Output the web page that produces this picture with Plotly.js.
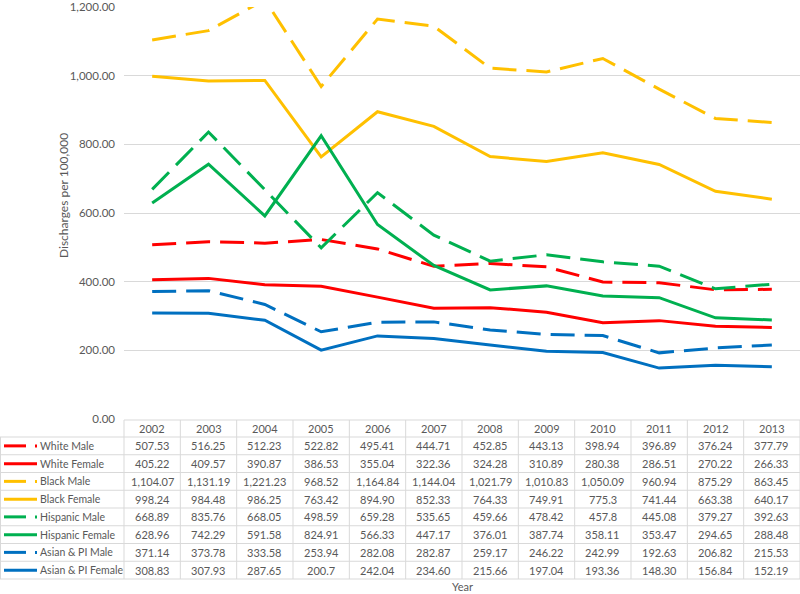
<!DOCTYPE html>
<html>
<head>
<meta charset="utf-8">
<script src="https://cdn.plot.ly/plotly-3.0.1.min.js"></script>
<style>html,body{margin:0;padding:0;background:#fff;}#chart{width:800px;height:594px;}</style>
</head>
<body>
<div id="chart"></div>
<script>
const years = ['2002','2003','2004','2005','2006','2007','2008','2009','2010','2011','2012','2013'];
const seriesNames = ['White Male','White Female','Black Male','Black Female','Hispanic Male','Hispanic Female','Asian & PI Male','Asian & PI Female'];
const whiteMale = [507.53,516.25,512.23,522.82,495.41,444.71,452.85,443.13,398.94,396.89,376.24,377.79];
const whiteFemale = [405.22,409.57,390.87,386.53,355.04,322.36,324.28,310.89,280.38,286.51,270.22,266.33];
const blackMale = [1104.07,1131.19,1221.23,968.52,1164.84,1144.04,1021.79,1010.83,1050.09,960.94,875.29,863.45];
const blackFemale = [998.24,984.48,986.25,763.42,894.90,852.33,764.33,749.91,775.3,741.44,663.38,640.17];
const hispanicMale = [668.89,835.76,668.05,498.59,659.28,535.65,459.66,478.42,457.8,445.08,379.27,392.63];
const hispanicFemale = [628.96,742.29,591.58,824.91,566.33,447.17,376.01,387.74,358.11,353.47,294.65,288.48];
const asianMale = [371.14,373.78,333.58,253.94,282.08,282.87,259.17,246.22,242.99,192.63,206.82,215.53];
const asianFemale = [308.83,307.93,287.65,200.7,242.04,234.60,215.66,197.04,193.36,148.30,156.84,152.19];
// Table cell text as shown in the reference
const tableText = [
 ['507.53','516.25','512.23','522.82','495.41','444.71','452.85','443.13','398.94','396.89','376.24','377.79'],
 ['405.22','409.57','390.87','386.53','355.04','322.36','324.28','310.89','280.38','286.51','270.22','266.33'],
 ['1,104.07','1,131.19','1,221.23','968.52','1,164.84','1,144.04','1,021.79','1,010.83','1,050.09','960.94','875.29','863.45'],
 ['998.24','984.48','986.25','763.42','894.90','852.33','764.33','749.91','775.3','741.44','663.38','640.17'],
 ['668.89','835.76','668.05','498.59','659.28','535.65','459.66','478.42','457.8','445.08','379.27','392.63'],
 ['628.96','742.29','591.58','824.91','566.33','447.17','376.01','387.74','358.11','353.47','294.65','288.48'],
 ['371.14','373.78','333.58','253.94','282.08','282.87','259.17','246.22','242.99','192.63','206.82','215.53'],
 ['308.83','307.93','287.65','200.7','242.04','234.60','215.66','197.04','193.36','148.30','156.84','152.19']
];
const seriesData = [whiteMale,whiteFemale,blackMale,blackFemale,hispanicMale,hispanicFemale,asianMale,asianFemale];
const colors = ['#ff0000','#ff0000','#ffc000','#ffc000','#00b050','#00b050','#0070c0','#0070c0'];
const isMale = [true,false,true,false,true,false,true,false];
const DASH = '24px,10px';

const traces = seriesData.map((d,i)=>({
  type:'scatter', mode:'lines', x:years, y:d, name:seriesNames[i],
  line:{color:colors[i], width:3, dash: isMale[i]?DASH:'solid'},
  hoverinfo:'x+y+name'
}));

// geometry helpers (pixels -> paper)
const L=124, T=7, PW=676, PH=412;
const px2x = p => (p-L)/PW;
const py2y = p => (T+PH-p)/PH;
const colW = PW/years.length;
const colCenter = c => (c+0.5)/years.length; // paper x of a category column centre

const gridC = '#d9d9d9';
const textC = '#595959';
const FS = 11;
const shapes = [];
const annotations = [];
const headTop = 420, headBot = 437, rowH = 17.75;
const nRows = seriesNames.length;
const tblBot = headBot + rowH*nRows;
// horizontal lines
shapes.push({type:'line', xref:'paper', yref:'paper', x0:px2x(124), x1:px2x(800), y0:py2y(headTop), y1:py2y(headTop), line:{color:gridC,width:1}});
for(let r=0;r<=nRows;r++){
  const y = headBot + rowH*r;
  shapes.push({type:'line', xref:'paper', yref:'paper', x0:px2x(0), x1:px2x(800), y0:py2y(y), y1:py2y(y), line:{color:gridC,width:1}});
}
// vertical lines
for(let c=0;c<=years.length;c++){
  const x = L + colW*c;
  shapes.push({type:'line', xref:'paper', yref:'paper', x0:px2x(x), x1:px2x(x), y0:py2y(headTop), y1:py2y(tblBot), line:{color:gridC,width:1}});
}
shapes.push({type:'line', xref:'paper', yref:'paper', x0:px2x(0.5), x1:px2x(0.5), y0:py2y(headBot), y1:py2y(tblBot), line:{color:gridC,width:1}});
// header text
years.forEach((yr,c)=>{
  annotations.push({xref:'paper', yref:'paper', x:colCenter(c), y:py2y((headTop+headBot)/2), text:yr, showarrow:false, xanchor:'center', yanchor:'middle', font:{size:FS,color:textC}});
});
// rows
for(let r=0;r<nRows;r++){
  const yc = headBot + rowH*r + rowH/2;
  tableText[r].forEach((t,c)=>{
    annotations.push({xref:'paper', yref:'paper', x:colCenter(c), y:py2y(yc), text:t, showarrow:false, xanchor:'center', yanchor:'middle', font:{size:FS,color:textC}});
  });
  annotations.push({xref:'paper', yref:'paper', x:px2x(38), y:py2y(yc), text:seriesNames[r], showarrow:false, xanchor:'left', yanchor:'middle', font:{size:10.5,color:textC}});
  if(isMale[r]){
    shapes.push({type:'line', xref:'paper', yref:'paper', x0:px2x(4), x1:px2x(26), y0:py2y(yc), y1:py2y(yc), line:{color:colors[r],width:3}});
    shapes.push({type:'line', xref:'paper', yref:'paper', x0:px2x(35), x1:px2x(37), y0:py2y(yc), y1:py2y(yc), line:{color:colors[r],width:3}});
  } else {
    shapes.push({type:'line', xref:'paper', yref:'paper', x0:px2x(4), x1:px2x(37), y0:py2y(yc), y1:py2y(yc), line:{color:colors[r],width:3}});
  }
}
// axis titles
annotations.push({xref:'paper', yref:'paper', x:px2x(462), y:py2y(586), text:'Year', showarrow:false, xanchor:'center', yanchor:'middle', font:{size:FS,color:textC}});
annotations.push({xref:'paper', yref:'paper', x:px2x(63), y:py2y(196), text:'Discharges per 100,000', textangle:-90, showarrow:false, xanchor:'center', yanchor:'middle', font:{size:12,color:textC}});

const layout = {
  width:800, height:594,
  margin:{l:L, r:800-L-PW, t:T, b:594-T-PH, pad:0},
  paper_bgcolor:'#ffffff', plot_bgcolor:'#ffffff',
  font:{family:'Lato, "Open Sans", sans-serif', size:FS, color:textC},
  showlegend:false,
  xaxis:{type:'category', range:[-0.5, years.length-0.5], showticklabels:false, showgrid:false, zeroline:false, showline:false, ticks:''},
  yaxis:{range:[0,1200], tickvals:[0,200,400,600,800,1000,1200], tickformat:',.2f', showgrid:true, gridcolor:gridC, gridwidth:1, zeroline:false, showline:false, ticks:'', ticklabelstandoff:8, tickfont:{size:11.5,color:textC}},
  shapes:shapes, annotations:annotations
};
Plotly.newPlot('chart', traces, layout, {displayModeBar:false, staticPlot:true});
</script>
</body>
</html>
